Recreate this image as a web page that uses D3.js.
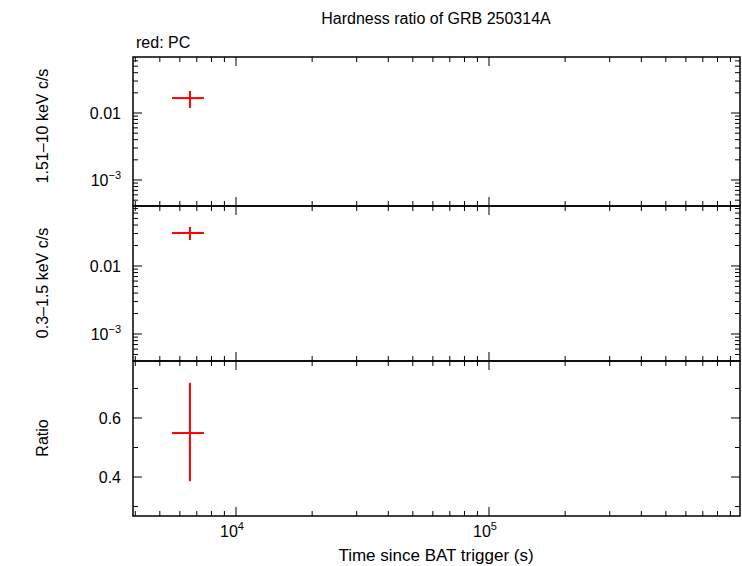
<!DOCTYPE html>
<html><head><meta charset="utf-8">
<script src="https://cdn.jsdelivr.net/npm/d3@7"></script>
<style>body{margin:0;background:#fff}text{font-family:"Liberation Sans",Arial,sans-serif;fill:#000}</style>
</head><body><div id="viz"></div>
<script>
// data
var timeVal = [6577], timeLo = [5587], timeHi = [7471];
var hardVal = [0.0167], hardLo = [0.0119], hardHi = [0.0213];
var softVal = [0.0306], softLo = [0.0241], softHi = [0.0374];
var ratioVal = [0.549], ratioLo = [0.386], ratioHi = [0.719];

var w = 742, h = 566, L = 133, R = 740;
var svg = d3.select("#viz").append("svg").attr("width", w).attr("height", h);

var x = d3.scaleLog().domain([3917, 982000]).range([L, R]);

var panels = [
  {top: 57, bot: 206, y: d3.scaleLog().domain([10**-3.388, 10**-1.164]), v: hardVal, lo: hardLo, hi: hardHi, lab: "1.51\u201310 keV c/s", log: true},
  {top: 206, bot: 361, y: d3.scaleLog().domain([10**-3.397, 10**-1.118]), v: softVal, lo: softLo, hi: softHi, lab: "0.3\u20131.5 keV c/s", log: true},
  {top: 361, bot: 516, y: d3.scaleLinear().domain([0.268, 0.793]), v: ratioVal, lo: ratioLo, hi: ratioHi, lab: "Ratio", log: false}
];

// x ticks
var xMajor = [1e4, 1e5], xMinor = [];
for (var d = 1e3; d < 1e6; d *= 10) for (var k = 2; k < 10; k++) if (d*k > 3917 && d*k < 982000) xMinor.push(d*k);

panels.forEach(function (p) {
  p.y.range([p.bot, p.top]);
  var g = svg.append("g");
  g.append("rect").attr("x", L).attr("y", p.top).attr("width", R - L).attr("height", p.bot - p.top)
    .attr("fill", "none").attr("stroke", "#000").attr("stroke-width", 1.5);
  xMajor.forEach(function (t) {
    g.append("line").attr("x1", x(t)).attr("x2", x(t)).attr("y1", p.bot).attr("y2", p.bot - 9).attr("stroke", "#000");
    g.append("line").attr("x1", x(t)).attr("x2", x(t)).attr("y1", p.top).attr("y2", p.top + 9).attr("stroke", "#000");
  });
  xMinor.forEach(function (t) {
    g.append("line").attr("x1", x(t)).attr("x2", x(t)).attr("y1", p.bot).attr("y2", p.bot - 5).attr("stroke", "#000");
    g.append("line").attr("x1", x(t)).attr("x2", x(t)).attr("y1", p.top).attr("y2", p.top + 5).attr("stroke", "#000");
  });
  var ymaj, ymin = [];
  if (p.log) {
    ymaj = [1e-3, 1e-2];
    for (var d = 1e-4; d < 1; d *= 10) for (var k = 2; k < 10; k++) {
      var v = d * k; if (v > p.y.domain()[0] && v < p.y.domain()[1]) ymin.push(v);
    }
  } else {
    ymaj = [0.4, 0.6];
    ymin = [0.3, 0.5, 0.7];
  }
  ymaj.forEach(function (t) {
    g.append("line").attr("x1", L).attr("x2", L + 9).attr("y1", p.y(t)).attr("y2", p.y(t)).attr("stroke", "#000");
    g.append("line").attr("x1", R).attr("x2", R - 9).attr("y1", p.y(t)).attr("y2", p.y(t)).attr("stroke", "#000");
    var t1 = g.append("text").attr("x", L - 12).attr("y", p.y(t) + 6).attr("text-anchor", "end").attr("font-size", 16);
    if (p.log && t === 1e-3) {
      t1.text("10"); t1.append("tspan").attr("dy", -7).attr("font-size", 11).text("\u22123");
    } else t1.text(p.log ? "0.01" : d3.format(".1f")(t));
  });
  ymin.forEach(function (t) {
    g.append("line").attr("x1", L).attr("x2", L + 5).attr("y1", p.y(t)).attr("y2", p.y(t)).attr("stroke", "#000");
    g.append("line").attr("x1", R).attr("x2", R - 5).attr("y1", p.y(t)).attr("y2", p.y(t)).attr("stroke", "#000");
  });
  timeVal.forEach(function (tv, i) {
    g.append("line").attr("x1", x(timeLo[i])).attr("x2", x(timeHi[i])).attr("y1", p.y(p.v[i])).attr("y2", p.y(p.v[i]))
      .attr("stroke", "#f00").attr("stroke-width", 2);
    g.append("line").attr("x1", x(tv)).attr("x2", x(tv)).attr("y1", p.y(p.lo[i])).attr("y2", p.y(p.hi[i]))
      .attr("stroke", "#f00").attr("stroke-width", 2);
  });
});

// y labels
svg.append("text").attr("transform", "translate(48,126) rotate(-90)").attr("text-anchor", "middle").attr("font-size", 16).text(panels[0].lab);
svg.append("text").attr("transform", "translate(48,283) rotate(-90)").attr("text-anchor", "middle").attr("font-size", 16).text(panels[1].lab);
svg.append("text").attr("transform", "translate(48,438) rotate(-90)").attr("text-anchor", "middle").attr("font-size", 16).text(panels[2].lab);

// x labels
[1e4, 1e5].forEach(function (t, i) {
  var tx = svg.append("text").attr("x", x(t) - 4).attr("y", 537).attr("text-anchor", "middle").attr("font-size", 16).text("10");
  tx.append("tspan").attr("dy", -7).attr("font-size", 11).text(i ? "5" : "4");
});
svg.append("text").attr("x", 436).attr("y", 561).attr("text-anchor", "middle").attr("font-size", 17).text("Time since BAT trigger (s)");
svg.append("text").attr("x", 436).attr("y", 24).attr("text-anchor", "middle").attr("font-size", 16).text("Hardness ratio of GRB 250314A");
svg.append("text").attr("x", 136).attr("y", 48).attr("font-size", 16).text("red: PC");
</script></body></html>
